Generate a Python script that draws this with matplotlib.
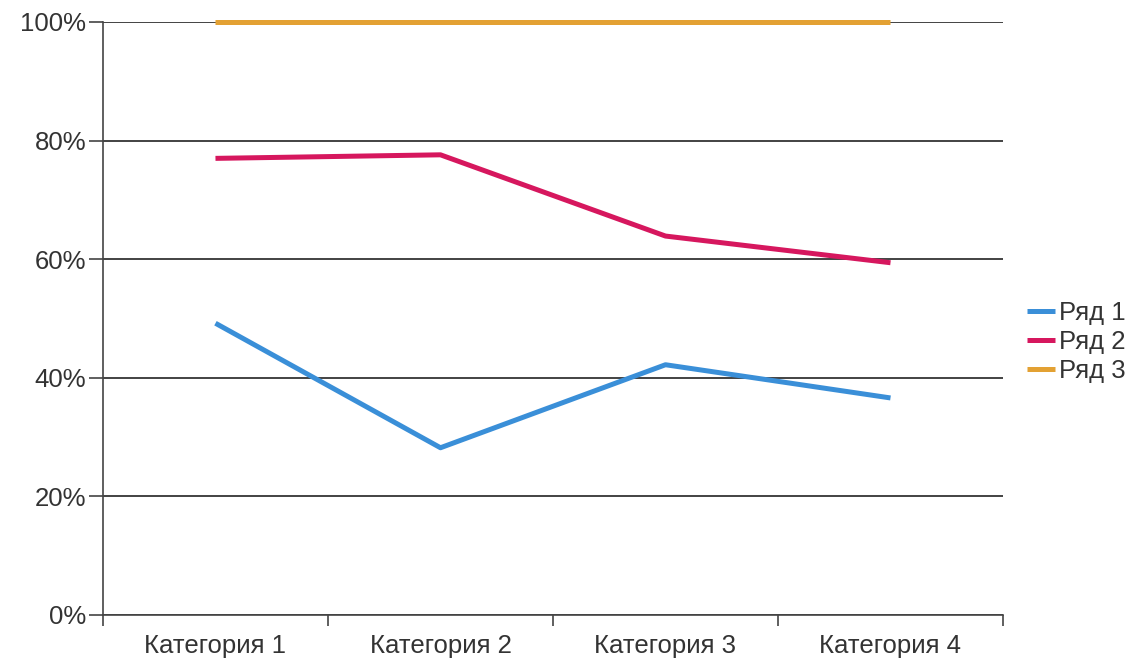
import numpy as np
import matplotlib.pyplot as plt
from matplotlib.ticker import FixedLocator, PercentFormatter

plt.rcParams['font.family'] = ['Liberation Sans', 'DejaVu Sans']

# Данные
categories = ['Категория 1', 'Категория 2', 'Категория 3', 'Категория 4']
series_names = ['Ряд 1', 'Ряд 2', 'Ряд 3']
row1 = [49.2, 28.2, 42.2, 36.6]
row2 = [77.0, 77.6, 63.9, 59.4]
row3 = [100.0, 100.0, 100.0, 100.0]
colors = ['#3a8fd8', '#d6175e', '#e3a133']

fig = plt.figure(figsize=(11.39, 6.6), dpi=100)
ax = fig.add_axes([0.0904, 0.0682, 0.7902, 0.8985])

x = np.arange(len(categories))
for vals, name, c in zip([row1, row2, row3], series_names, colors):
    ax.plot(x, vals, color=c, linewidth=3.6, label=name, solid_capstyle='butt',
            zorder=3, clip_on=False)

ax.set_xlim(-0.5, len(categories) - 0.5)
ax.set_ylim(0, 100)
ax.set_yticks([0, 20, 40, 60, 80, 100])
ax.yaxis.set_major_formatter(PercentFormatter(decimals=0))
ax.yaxis.grid(True, color='#222222', linewidth=1.2, zorder=1)

# подписи категорий без рисок, риски на границах
ax.set_xticks(x)
ax.set_xticklabels(categories)
ax.tick_params(axis='x', which='major', length=0, pad=14)
ax.xaxis.set_minor_locator(FixedLocator(np.arange(-0.5, len(categories), 1.0)))
ax.tick_params(axis='x', which='minor', length=8, width=1.2, color='#444444', direction='out')
ax.tick_params(axis='y', length=10, width=1.2, color='#444444', pad=2)
ax.tick_params(labelsize=18.5, labelcolor='#333333')

for s in ['top', 'right']:
    ax.spines[s].set_visible(False)
for s in ['left', 'bottom']:
    ax.spines[s].set_color('#444444')
    ax.spines[s].set_linewidth(1.2)

leg = ax.legend(loc='center left', bbox_to_anchor=(1.015, 0.46), frameon=False,
                fontsize=18.5, handlelength=1.1, handletextpad=0.15, labelspacing=0.2,
                borderaxespad=0)
for t in leg.get_texts():
    t.set_color('#333333')

fig.savefig('out.png', dpi=100)
